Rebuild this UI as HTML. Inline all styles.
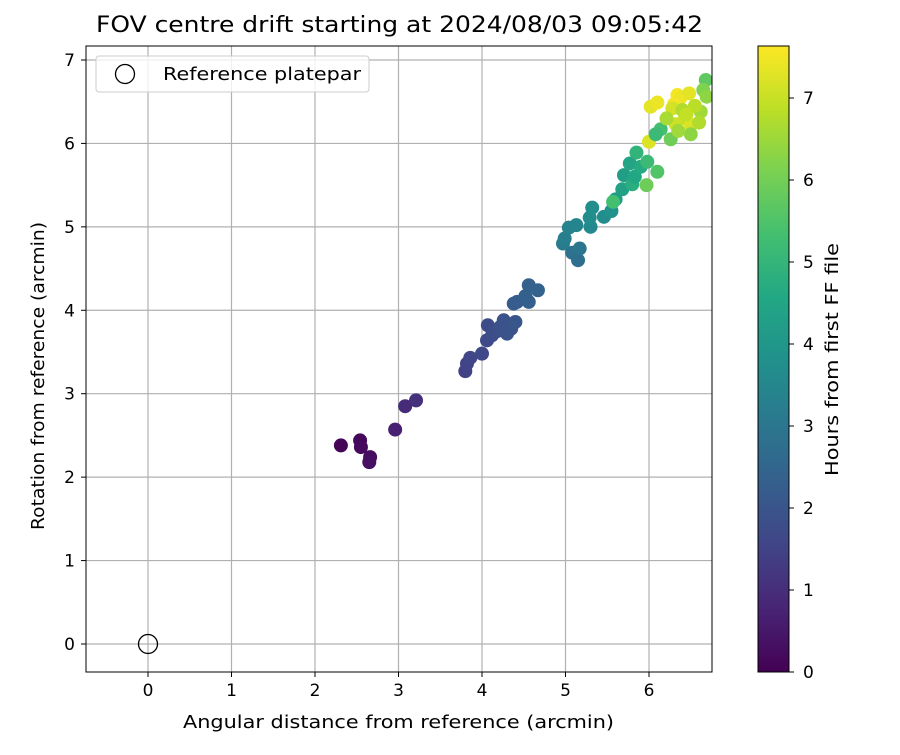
<!DOCTYPE html>
<html><head><meta charset="utf-8"><style>
body{margin:0;background:#fff;font-family:"Liberation Sans","DejaVu Sans",sans-serif}
</style></head><body>
<svg id="chart" width="900" height="750" xmlns="http://www.w3.org/2000/svg" font-family="DejaVu Sans, Liberation Sans, sans-serif">
<defs>
<linearGradient id="vir" x1="0" y1="1" x2="0" y2="0">
<stop offset="0" stop-color="#440154"/><stop offset="0.1" stop-color="#482475"/><stop offset="0.2" stop-color="#414487"/><stop offset="0.3" stop-color="#355f8d"/><stop offset="0.4" stop-color="#2a788e"/><stop offset="0.5" stop-color="#21918c"/><stop offset="0.6" stop-color="#22a884"/><stop offset="0.7" stop-color="#44bf70"/><stop offset="0.8" stop-color="#7ad151"/><stop offset="0.9" stop-color="#bddf26"/><stop offset="1" stop-color="#fde725"/>
</linearGradient>
<clipPath id="clip"><rect x="86" y="46" width="626" height="626"/></clipPath>
</defs>
<text x="96" y="32" font-size="22" textLength="607" lengthAdjust="spacingAndGlyphs">FOV centre drift starting at 2024/08/03 09:05:42</text>
<g id="grid"></g>
<g id="pts" clip-path="url(#clip)"></g>
<rect x="86" y="46" width="626" height="626" fill="none" stroke="#000" stroke-width="1"/>
<g id="ticks" font-size="17"></g>
<text x="183" y="728" font-size="18" textLength="431" lengthAdjust="spacingAndGlyphs">Angular distance from reference (arcmin)</text>
<text transform="translate(44,530) rotate(-90)" font-size="18" textLength="308" lengthAdjust="spacingAndGlyphs">Rotation from reference (arcmin)</text>
<g>
<rect x="96" y="56" width="273" height="36" rx="3" fill="#fff" fill-opacity="0.8" stroke="#ccc"/>
<circle cx="125" cy="74" r="9.5" fill="none" stroke="#000" stroke-width="1.3"/>
<text x="163" y="80" font-size="18" textLength="198" lengthAdjust="spacingAndGlyphs">Reference platepar</text>
</g>
<rect x="758" y="46" width="31" height="626" fill="url(#vir)" stroke="#000" stroke-width="1"/>
<g id="cbticks" font-size="17"></g>
<text transform="translate(838,476) rotate(-90)" font-size="18" textLength="233" lengthAdjust="spacingAndGlyphs">Hours from first FF file</text>
</svg>
<script>
const xTicks=[0,1,2,3,4,5,6];
const yTicks=[0,1,2,3,4,5,6,7];
const cTicks=[0,1,2,3,4,5,6,7];
const xs=[2.31,2.54,2.55,2.66,2.65,2.96,3.08,3.21,3.8,3.82,3.86,4.0,4.06,4.07,4.12,4.18,4.22,4.26,4.3,4.35,4.4,4.38,4.42,4.56,4.56,4.67,4.52,4.97,4.99,5.04,5.13,5.08,5.15,5.17,5.3,5.29,5.32,5.46,5.55,5.6,5.68,5.7,5.77,5.8,5.83,5.9,5.85,5.97,5.98,6.1,5.57,6.0,6.02,6.1,6.34,6.38,6.48,6.3,6.28,6.43,6.5,6.32,6.68,6.65,6.69,6.62,6.5,6.26,6.14,6.08,6.21,6.4,6.55,6.6,6.35,6.45];
const ys=[2.38,2.44,2.36,2.24,2.18,2.57,2.85,2.92,3.27,3.36,3.43,3.48,3.64,3.82,3.7,3.75,3.8,3.88,3.72,3.78,3.86,4.08,4.1,4.1,4.3,4.24,4.17,4.8,4.86,4.99,5.02,4.69,4.6,4.74,5.0,5.11,5.23,5.12,5.19,5.33,5.45,5.62,5.76,5.51,5.6,5.72,5.89,5.5,5.78,5.66,5.3,6.02,6.44,6.49,6.58,6.55,6.6,6.47,6.42,6.3,6.22,6.23,6.76,6.64,6.56,6.38,6.11,6.05,6.17,6.11,6.3,6.4,6.45,6.25,6.15,6.35];
const ts=[0.1,0.15,0.2,0.25,0.3,0.7,0.95,1.05,1.5,1.55,1.6,1.65,1.7,1.75,1.8,1.85,1.9,1.95,2.0,2.0,2.05,2.2,2.25,2.3,2.4,2.45,2.35,3.2,3.3,3.4,3.5,2.9,2.8,3.0,3.6,3.7,3.8,3.7,3.9,4.2,4.4,4.3,4.5,4.8,4.6,4.7,5.0,6.0,5.2,5.6,5.4,7.3,7.4,7.5,7.6,7.5,7.4,7.6,7.2,7.0,7.3,7.1,5.8,6.2,6.4,6.6,6.4,6.0,5.4,5.2,6.7,6.8,6.9,6.8,6.6,7.0];
const X=v=>148+83.5*v, Y=v=>644-83.43*v, C=v=>672-82*v;
const NS="http://www.w3.org/2000/svg";
function mk(t,a,p){const e=document.createElementNS(NS,t);for(const k in a)e.setAttribute(k,a[k]);p.appendChild(e);return e;}
const vir=["#440154","#482475","#414487","#355f8d","#2a788e","#21918c","#22a884","#44bf70","#7ad151","#bddf26","#fde725"];
function col(t){let f=Math.max(0,Math.min(1,t/7.71))*10,i=Math.min(9,Math.floor(f)),r=f-i;
const a=vir[i],b=vir[i+1],h=(s,k)=>parseInt(s.substr(k,2),16);
return "rgb("+[1,3,5].map(k=>Math.round(h(a,k)+(h(b,k)-h(a,k))*r)).join(",")+")";}
const g=document.getElementById('grid'),tk=document.getElementById('ticks'),pts=document.getElementById('pts'),cb=document.getElementById('cbticks');
xTicks.forEach(v=>{
const l=mk('line',{x1:X(v),x2:X(v),y1:46,y2:672,stroke:'#b0b0b0','stroke-width':1.2},g);


mk('line',{x1:X(v),x2:X(v),y1:672,y2:677,stroke:'#000'},tk);
const t=mk('text',{x:X(v),y:696,'text-anchor':'middle'},tk);t.textContent=v;


});
yTicks.forEach(v=>{
const l=mk('line',{x1:86,x2:712,y1:Y(v),y2:Y(v),stroke:'#b0b0b0','stroke-width':1.2},g);


mk('line',{x1:81,x2:86,y1:Y(v),y2:Y(v),stroke:'#000'},tk);
const t=mk('text',{x:75,y:Y(v)+6,'text-anchor':'end'},tk);t.textContent=v;


});
cTicks.forEach(v=>{
mk('line',{x1:789,x2:794,y1:C(v),y2:C(v),stroke:'#000'},cb);
const t=mk('text',{x:803,y:C(v)+6},cb);t.textContent=v;


});
const ref=mk('circle',{cx:X(0),cy:Y(0),r:9.5,fill:'none',stroke:'#000','stroke-width':1.3},pts);


xs.forEach((x,i)=>{
const c=mk('circle',{cx:X(x),cy:Y(ys[i]),r:7,fill:col(ts[i])},pts);


});
</script>
</body></html>
